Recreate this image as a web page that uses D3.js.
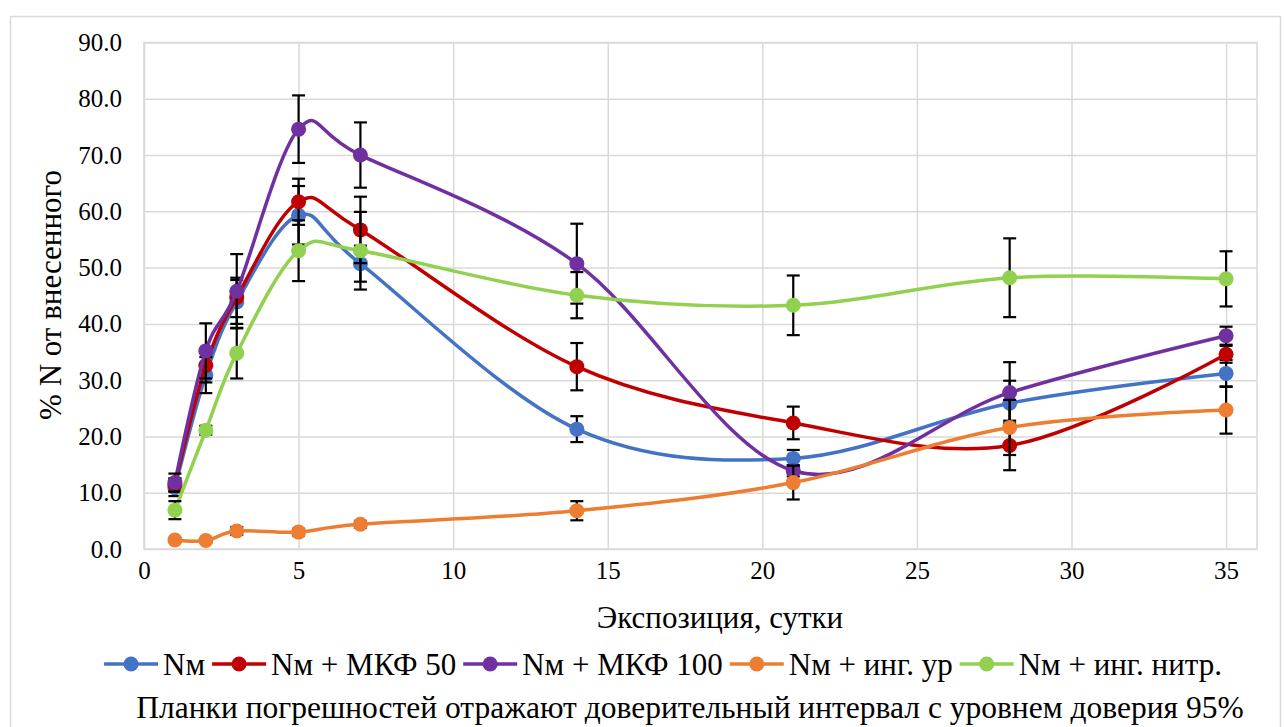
<!DOCTYPE html>
<html>
<head>
<meta charset="utf-8">
<script src="https://cdn.jsdelivr.net/npm/d3@7"></script>
<style>
  body { margin: 0; background: #fff; }
  svg text { font-family: "Liberation Serif", "DejaVu Serif", serif; fill: #000; }
  .grid line { stroke: #d9d9d9; stroke-width: 1.5; }
  .grid path { display: none; }
</style>
</head>
<body>
<svg width="1285" height="727"></svg>
<script>
// сутки экспозиции
const days = [1, 2, 3, 5, 7, 14, 21, 28, 35]

const names = ['Nм', 'Nм + МКФ 50', 'Nм + МКФ 100', 'Nм + инг. ур', 'Nм + инг. нитр.']
const colors = ['#4472C4', '#C00000', '#7030A0', '#ED7D31', '#92D050']

const nm = [10.9, 30.9, 43.9, 59.3, 50.7, 21.3, 16.1, 25.9, 31.2]
const nmErr = [1.5, 3.2, 3.9, 5.2, 3.2, 2.3, 1.5, 4.0, 2.4]
const mkf50 = [11.4, 32.6, 44.7, 61.7, 56.7, 32.4, 22.4, 18.4, 34.6]
const mkf50Err = [1.2, 3.0, 3.5, 4.1, 5.9, 4.2, 2.9, 4.4, 1.5]
const mkf100 = [11.8, 35.2, 45.8, 74.6, 70.0, 50.7, 13.9, 27.8, 37.9]
const mkf100Err = [1.6, 4.9, 6.6, 6.0, 5.8, 7.1, 1.0, 5.4, 1.6]
const ingUr = [1.6, 1.5, 3.2, 3.0, 4.4, 6.8, 11.8, 21.6, 24.7]
const ingUrErr = [0.3, 0.3, 0.7, 0.6, 0.6, 1.7, 3.0, 4.9, 4.2]
const ingNitr = [6.9, 21.1, 34.8, 53.0, 53.0, 45.1, 43.3, 48.2, 48.0]
const ingNitrErr = [1.6, 0.8, 4.5, 5.4, 6.9, 4.1, 5.3, 7.0, 4.9]

const xTicks = [0, 5, 10, 15, 20, 25, 30, 35]
const yTicks = [0, 10, 20, 30, 40, 50, 60, 70, 80, 90]

const series = [
  { name: names[0], color: colors[0], vals: nm, err: nmErr },
  { name: names[1], color: colors[1], vals: mkf50, err: mkf50Err },
  { name: names[2], color: colors[2], vals: mkf100, err: mkf100Err },
  { name: names[3], color: colors[3], vals: ingUr, err: ingUrErr },
  { name: names[4], color: colors[4], vals: ingNitr, err: ingNitrErr },
]

const svg = d3.select('svg')

// рамка всей диаграммы
svg.append('rect')
  .attr('x', 10.5).attr('y', 16.5)
  .attr('width', 1270).attr('height', 730)
  .attr('fill', 'none').attr('stroke', '#d9d9d9').attr('stroke-width', 1.5)

const plot = { left: 144, right: 1257, top: 42.5, bottom: 549 }

const xScale = d3.scaleLinear().domain([0, 36]).range([plot.left, plot.right])
const yScale = d3.scaleLinear().domain([0, 90]).range([plot.bottom, plot.top])

/*сетка*/
svg.append('g')
  .attr('class', 'grid')
  .attr('transform', `translate(0, ${plot.bottom})`)
  .call(d3.axisBottom(xScale).tickValues(xTicks).tickSize(-(plot.bottom - plot.top)).tickFormat(''))

svg.append('g')
  .attr('class', 'grid')
  .attr('transform', `translate(${plot.left}, 0)`)
  .call(d3.axisLeft(yScale).tickValues(yTicks).tickSize(-(plot.right - plot.left)).tickFormat(''))

svg.append('rect')
  .attr('x', plot.left).attr('y', plot.top)
  .attr('width', plot.right - plot.left).attr('height', plot.bottom - plot.top)
  .attr('fill', 'none').attr('stroke', '#d9d9d9').attr('stroke-width', 1.5)

/*подписи осей*/
const xAxis = svg.append('g')
  .attr('transform', `translate(0, ${plot.bottom})`)
  .call(d3.axisBottom(xScale).tickValues(xTicks).tickSize(0).tickPadding(12))
xAxis.select('.domain').remove()
xAxis.selectAll('text').attr('font-size', 25)

const yAxis = svg.append('g')
  .attr('transform', `translate(${plot.left}, 0)`)
  .call(d3.axisLeft(yScale).tickValues(yTicks).tickSize(0).tickPadding(22).tickFormat(d3.format('.1f')))
yAxis.select('.domain').remove()
yAxis.selectAll('text').attr('font-size', 25)

svg.append('text')
  .attr('x', 720)
  .attr('y', 628)
  .attr('text-anchor', 'middle')
  .attr('font-size', 31)
  .text('Экспозиция, сутки')

svg.append('text')
  .attr('transform', `translate(61, 295) rotate(-90)`)
  .attr('text-anchor', 'middle')
  .attr('font-size', 31)
  .text('% N от внесенного')

/*линии, планки погрешностей, маркеры*/
const line = d3.line()
  .x((d) => xScale(d.x))
  .y((d) => yScale(d.y))
  .curve(d3.curveCatmullRom.alpha(0))

series.forEach(function (s) {
  const pts = days.map((x, i) => ({ x: x, y: s.vals[i], e: s.err[i] }))
  const g = svg.append('g')

  g.append('path')
    .datum(pts)
    .attr('d', line)
    .attr('fill', 'none')
    .attr('stroke', s.color)
    .attr('stroke-width', 3.5)

  const eb = g.selectAll('.err').data(pts).enter().append('g').attr('class', 'err')
  eb.append('line')
    .attr('x1', (d) => xScale(d.x)).attr('x2', (d) => xScale(d.x))
    .attr('y1', (d) => yScale(d.y - d.e)).attr('y2', (d) => yScale(d.y + d.e))
  eb.append('line')
    .attr('x1', (d) => xScale(d.x) - 6.5).attr('x2', (d) => xScale(d.x) + 6.5)
    .attr('y1', (d) => yScale(d.y + d.e)).attr('y2', (d) => yScale(d.y + d.e))
  eb.append('line')
    .attr('x1', (d) => xScale(d.x) - 6.5).attr('x2', (d) => xScale(d.x) + 6.5)
    .attr('y1', (d) => yScale(d.y - d.e)).attr('y2', (d) => yScale(d.y - d.e))
  eb.selectAll('line').attr('stroke', '#000').attr('stroke-width', 2.2)

  g.selectAll('circle').data(pts).enter().append('circle')
    .attr('cx', (d) => xScale(d.x))
    .attr('cy', (d) => yScale(d.y))
    .attr('r', 7.5)
    .attr('fill', s.color)
})

/*легенда*/
const legend = svg.append('g')
let lx = 0
series.forEach(function (s, i) {
  const item = legend.append('g').attr('transform', `translate(${lx}, 0)`)
  item.append('line').attr('x1', 0).attr('x2', 54).attr('y1', 0).attr('y2', 0)
    .attr('stroke', s.color).attr('stroke-width', 3.5)
  item.append('circle').attr('cx', 27).attr('cy', 0).attr('r', 7.5).attr('fill', s.color)
  const t = item.append('text').attr('x', 59).attr('y', 11).attr('font-size', 31).text(s.name)
  lx += 59 + t.node().getComputedTextLength() + 7
})
// легенда: от 98 до ~1228 в оригинале
legend.attr('transform', `translate(${663 - (lx - 7) / 2}, 664)`)

svg.append('text')
  .attr('x', 690)
  .attr('y', 718)
  .attr('text-anchor', 'middle')
  .attr('font-size', 31.5)
  .text('Планки погрешностей отражают доверительный интервал с уровнем доверия 95%')
</script>
</body>
</html>
